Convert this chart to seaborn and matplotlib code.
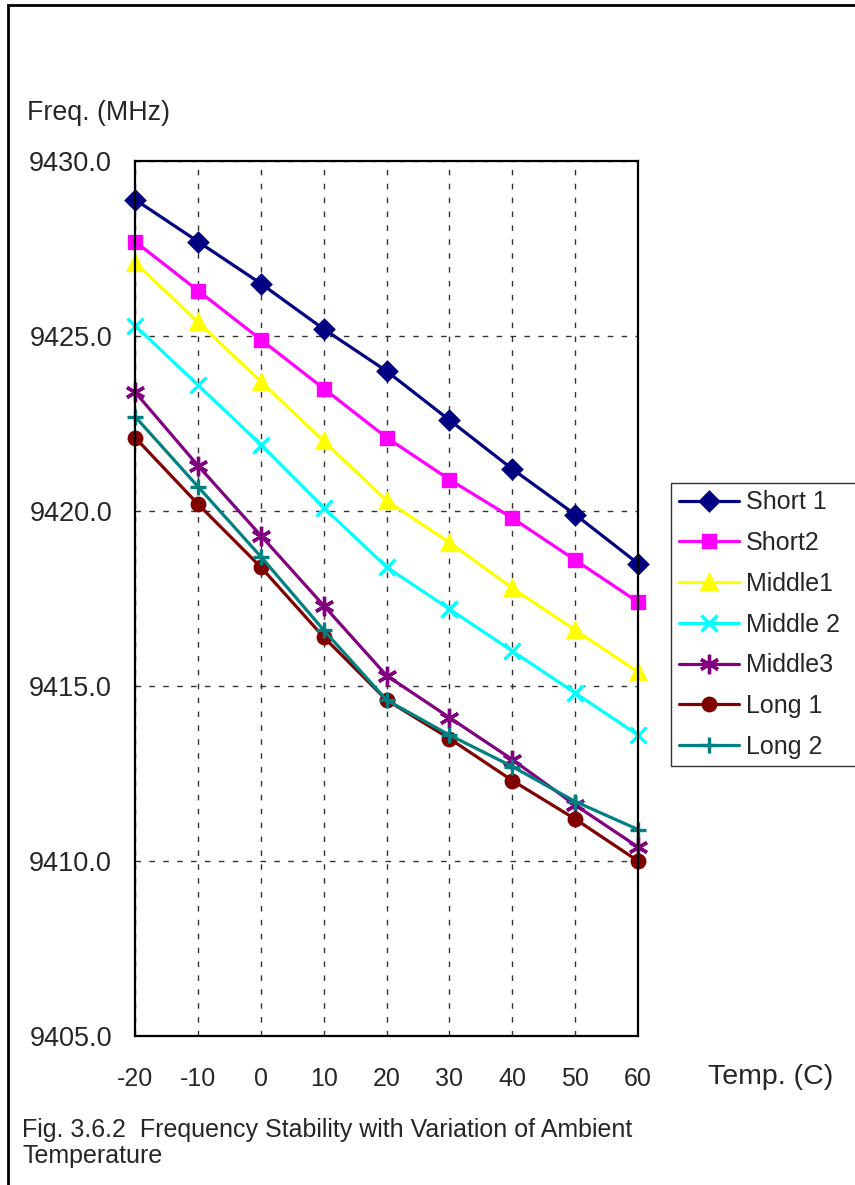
import pandas as pd
import matplotlib.pyplot as plt
import seaborn as sns
from matplotlib.patches import Rectangle

# Dados
temps = [-20, -10, 0, 10, 20, 30, 40, 50, 60]

short_1 = [9428.9, 9427.7, 9426.5, 9425.2, 9424.0, 9422.6, 9421.2, 9419.9, 9418.5]
short_2 = [9427.7, 9426.3, 9424.9, 9423.5, 9422.1, 9420.9, 9419.8, 9418.6, 9417.4]
middle_1 = [9427.1, 9425.4, 9423.7, 9422.0, 9420.3, 9419.1, 9417.8, 9416.6, 9415.4]
middle_2 = [9425.3, 9423.6, 9421.9, 9420.1, 9418.4, 9417.2, 9416.0, 9414.8, 9413.6]
middle_3 = [9423.4, 9421.3, 9419.3, 9417.3, 9415.3, 9414.1, 9412.9, 9411.6, 9410.4]
long_1 = [9422.1, 9420.2, 9418.4, 9416.4, 9414.6, 9413.5, 9412.3, 9411.2, 9410.0]
long_2 = [9422.7, 9420.7, 9418.7, 9416.6, 9414.6, 9413.6, 9412.7, 9411.7, 9410.9]

nomes = ['Short 1', 'Short2', 'Middle1', 'Middle 2', 'Middle3', 'Long 1', 'Long 2']
series = [short_1, short_2, middle_1, middle_2, middle_3, long_1, long_2]
cores = ['#000080', '#FF00FF', '#FFFF00', '#00FFFF', '#800080', '#800000', '#008080']
marcadores = ['D', 's', '^', 'x', (6, 2, 0), 'o', '+']
tamanhos = [9, 9, 10, 11, 14, 9, 12]

legenda_fig = ['Fig. 3.6.2  Frequency Stability with Variation of Ambient', 'Temperature']

df = pd.DataFrame({'Temp': temps * len(nomes),
                   'Freq': sum(series, []),
                   'Serie': [n for n in nomes for _ in temps]})

sns.set_style('white')
plt.rcParams['font.family'] = ['Liberation Sans', 'DejaVu Sans']

fig = plt.figure(figsize=(8.55, 11.85), dpi=100)
ax = fig.add_axes([135 / 855, 1 - 1036 / 1185, (638 - 135) / 855, (1036 - 161) / 1185])

for nome, cor, mk, ms in zip(nomes, cores, marcadores, tamanhos):
    sns.lineplot(data=df[df['Serie'] == nome], x='Temp', y='Freq', ax=ax,
                 color=cor, marker=mk, markersize=ms, markeredgecolor=cor,
                 markeredgewidth=2.4, linewidth=2.3, label=nome, clip_on=False)

ax.set_xlim(-20, 60)
ax.set_ylim(9405, 9430)
ax.set_xticks(temps)
ax.set_xticklabels([str(t) for t in temps])
ax.set_yticks([9405, 9410, 9415, 9420, 9425, 9430])
ax.set_yticklabels(['9405.0', '9410.0', '9415.0', '9420.0', '9425.0', '9430.0'])
ax.tick_params(axis='x', direction='in', length=7, width=1, color='black',
               pad=22, labelsize=18)
ax.tick_params(axis='y', length=0, pad=16.5, labelsize=19.5)
ax.set_xlabel('')
ax.set_ylabel('')

ax.grid(True, color='#333333', linestyle=(0, (4, 6)), linewidth=1)
for s in ax.spines.values():
    s.set_visible(True)
    s.set_color('black')
    s.set_linewidth(1.6)

fig.text(27 / 855, 1 - 113 / 1185, 'Freq. (MHz)', fontsize=19.3, va='center', ha='left')
fig.text(708 / 855, 1 - 1077 / 1185, 'Temp. (C)', fontsize=20.5, va='center', ha='left')
fig.text(22 / 855, 1 - 1130 / 1185, legenda_fig[0], fontsize=18, va='center', ha='left')
fig.text(22 / 855, 1 - 1156 / 1185, legenda_fig[1], fontsize=18, va='center', ha='left')

leg = ax.legend(loc='upper left', bbox_to_anchor=(671 / 855, 1 - 765 / 1185, 220 / 855, 282 / 1185),
                bbox_transform=fig.transFigure, mode='expand', fontsize=18, frameon=True,
                fancybox=False, edgecolor='black', handlelength=2.4,
                handletextpad=0.3, labelspacing=0.67, borderpad=0.3,
                borderaxespad=0)
leg.get_frame().set_linewidth(1)

# moldura externa
fig.patches.append(Rectangle((8 / 855, -0.05), 1.1, 1.05 - 5 / 1185, transform=fig.transFigure,
                             fill=False, edgecolor='black', linewidth=2))

fig.savefig('out.png', dpi=100)
